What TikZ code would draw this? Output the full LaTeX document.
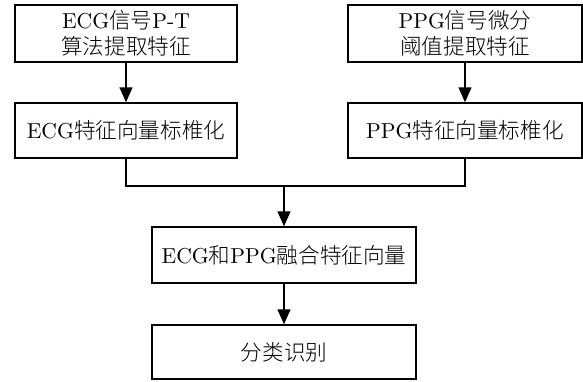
\documentclass[tikz,border=0pt]{standalone}
\usepackage{fontspec}
\newfontfamily\cjk[UprightFont={* Light}]{Noto Sans CJK SC}
\newcommand{\zh}[1]{{\cjk #1}}
\usetikzlibrary{arrows.meta}
\begin{document}
\begin{tikzpicture}[x=0.5pt,y=-0.5pt,
  box/.style={draw, line width=0.75pt, inner sep=0pt, align=center,
    font=\fontsize{10.8}{13}\selectfont},
  arr/.style={line width=0.75pt, -{Triangle[length=7.5pt,width=6.5pt]}},
  ln/.style={line width=0.75pt}]
\useasboundingbox (0,0) rectangle (583,381);
\node[box, minimum width=111pt, minimum height=28.5pt] (b1) at (126,33.5) {ECG\zh{信号}P-T\\\zh{算法提取特征}};
\node[box, minimum width=111pt, minimum height=27.5pt] (b2) at (126,130.5) {ECG\zh{特征向量标椎化}};
\node[box, minimum width=117pt, minimum height=28.5pt] (b3) at (465,33.5) {PPG\zh{信号微分}\\\zh{阈值提取特征}};
\node[box, minimum width=117pt, minimum height=27.5pt] (b4) at (465,130.5) {PPG\zh{特征向量标椎化}};
\node[box, minimum width=132pt, minimum height=28pt] (b5) at (284,255) {ECG\zh{和}PPG\zh{融合特征向量}};
\node[box, minimum width=132pt, minimum height=27pt] (b6) at (284,352) {\zh{分类识别}};
\coordinate (m) at (284,186);
\draw[arr] (b1) -- (b2);
\draw[arr] (b3) -- (b4);
\draw[ln] (b2.south) |- (m) -| (b4.south);
\draw[arr] (m) -- (b5);
\draw[arr] (b5) -- (b6);
\end{tikzpicture}
\end{document}
